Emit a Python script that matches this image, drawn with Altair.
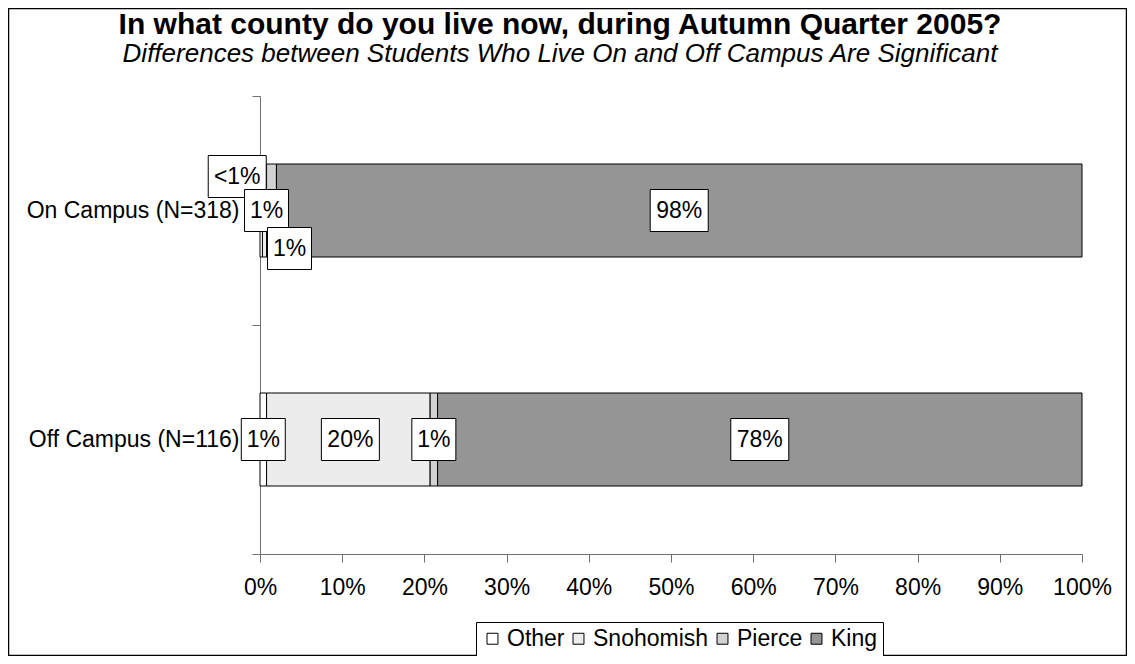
import altair as alt
import pandas as pd

# ---- data ----
groups = ["On Campus (N=318)", "Off Campus (N=116)"]
counties = ["Other", "Snohomish", "Pierce", "King"]
on_campus = [0.3, 0.5, 1.2, 98.0]
off_campus = [0.8, 19.9, 0.9, 78.4]
labels_on = ["<1%", "1%", "1%", "98%"]
labels_off = ["1%", "20%", "1%", "78%"]
ticks_x = [0, 10, 20, 30, 40, 50, 60, 70, 80, 90, 100]
title_text = "In what county do you live now, during Autumn Quarter 2005?"
subtitle_text = "Differences between Students Who Live On and Off Campus Are Significant"

colors = ["#ffffff", "#ececec", "#d2d2d2", "#959595"]

rows = []
for g, vals, labs in [(groups[0], on_campus, labels_on), (groups[1], off_campus, labels_off)]:
    cum = 0.0
    for c, v, lab in zip(counties, vals, labs):
        rows.append({"group": g, "county": c, "order": counties.index(c),
                     "value": v, "start": cum, "end": cum + v,
                     "mid": cum + v / 2, "label": lab, "len": str(len(lab))})
        cum += v
df = pd.DataFrame(rows)

FONT = "Liberation Sans"
FS = 23

xscale = alt.Scale(domain=[0, 100], nice=False)
yscale = alt.Scale(domain=groups, paddingInner=0, paddingOuter=0)

base = alt.Chart(df)

bars = base.mark_bar(height=93, stroke="black", strokeWidth=1).encode(
    x=alt.X("start:Q", scale=xscale,
            axis=alt.Axis(values=ticks_x, labelExpr="datum.value + '%'", grid=False,
                          title=None, tickSize=8, labelFontSize=FS, labelFont=FONT,
                          labelPadding=14, domainColor="#707070", tickColor="#707070",
                          labelColor="black", labelFlush=False, labelOverlap=False)),
    x2="end:Q",
    y=alt.Y("group:N", scale=yscale,
            axis=alt.Axis(title=None, tickBand="extent", tickSize=8, labelFontSize=FS,
                          labelFont=FONT, labelPadding=13, domainColor="#707070",
                          tickColor="#707070", labelColor="black", labelLimit=400)),
    color=alt.Color("county:N", scale=alt.Scale(domain=counties, range=colors),
                    legend=alt.Legend(title=None, orient="none", direction="horizontal",
                                      legendX=216, legendY=526, columns=4,
                                      labelFontSize=FS, labelFont=FONT, labelColor="black",
                                      symbolType="square", symbolSize=120,
                                      symbolStrokeColor="black", symbolStrokeWidth=1,
                                      strokeColor="black", padding=5, columnPadding=2,
                                      labelOffset=3, fillColor="white")),
    order=alt.Order("order:Q"),
)

p2 = "M-1.0476,-1H1.0476V1H-1.0476Z"
p3 = "M-1.381,-1H1.381V1H-1.381Z"


def label_layers(filter_expr, xoff=0, yoff=0):
    d = base.transform_filter(filter_expr)
    box = d.mark_point(size=1764, filled=True, fill="white", stroke="black",
                       strokeWidth=1, opacity=1, xOffset=xoff, yOffset=yoff).encode(
        x=alt.X("mid:Q", scale=xscale),
        y=alt.Y("group:N", scale=yscale),
        shape=alt.Shape("len:N", scale=alt.Scale(domain=["2", "3"], range=[p2, p3]),
                        legend=None),
    )
    txt = d.mark_text(font=FONT, fontSize=FS, color="black", align="center",
                      baseline="middle", xOffset=xoff, yOffset=yoff).encode(
        x=alt.X("mid:Q", scale=xscale),
        y=alt.Y("group:N", scale=yscale),
        text="label:N",
    )
    return [box, txt]


on = f"datum.group == '{groups[0]}'"
off = f"datum.group == '{groups[1]}'"
layers = [bars]
layers += label_layers(f"datum.county == 'Other' && {off}")
layers += label_layers(f"datum.county == 'Other' && {on}", -24, -34)
layers += label_layers("datum.county == 'Snohomish'", 2, 0)
layers += label_layers(f"datum.county == 'Pierce' && {off}")
layers += label_layers(f"datum.county == 'Pierce' && {on}", 18, 38)
layers += label_layers("datum.county == 'King'")

one = pd.DataFrame({"a": [0]})
frame = alt.Chart(one).mark_rect(
    fill=None, stroke="black", strokeWidth=1.5).encode(
    x=alt.value(-251.5), x2=alt.value(866.5), y=alt.value(-87.5), y2=alt.value(559.5))
title = alt.Chart(one).mark_text(font=FONT, fontSize=30, fontWeight="bold", color="black",
                                 align="center", baseline="alphabetic").encode(
    x=alt.value(300), y=alt.value(-62), text=alt.value(title_text))
subtitle = alt.Chart(one).mark_text(font=FONT, fontSize=26, fontStyle="italic", color="black",
                                    align="center", baseline="alphabetic").encode(
    x=alt.value(300), y=alt.value(-34), text=alt.value(subtitle_text))
layers += [frame, title, subtitle]

chart = alt.layer(*layers).properties(
    width=822, height=458,
    autosize=alt.AutoSizeParams(type="none"),
    padding={"left": 252, "top": 88, "right": 45, "bottom": 102},
    background="white",
).configure(view=alt.ViewConfig(strokeWidth=0, stroke="transparent"))

chart.save("out.html", embed_options={"renderer": "svg", "actions": False})
